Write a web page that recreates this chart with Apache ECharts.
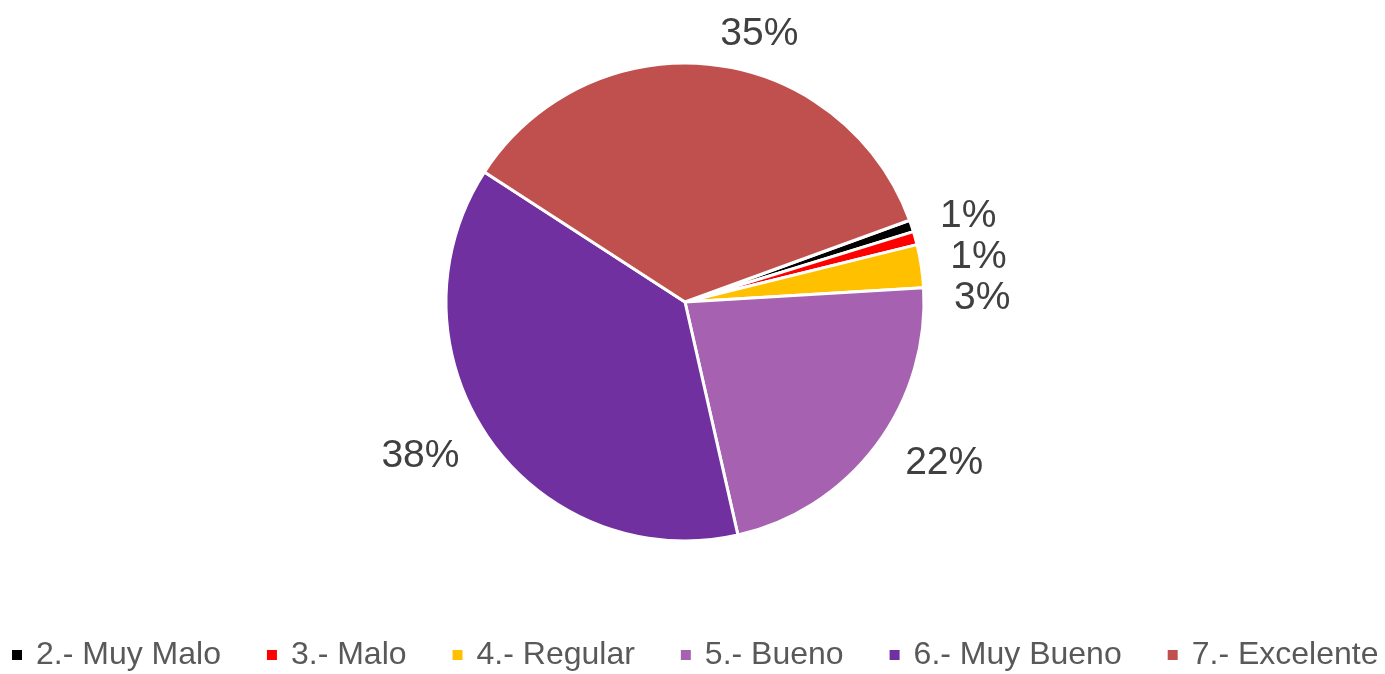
<!DOCTYPE html>
<html lang="es">
<head>
  <meta charset="UTF-8">
  <title>Pie</title>
  <script src="https://cdn.jsdelivr.net/npm/echarts@6/dist/echarts.min.js"></script>
  <style>
    html, body { margin: 0; padding: 0; background: #fff; }
  </style>
</head>
<body>
<div id="main" style="width: 1385px;height:674px;"></div>
<script type="text/javascript">

const categories = ['2.- Muy Malo', '3.- Malo', '4.- Regular', '5.- Bueno', '6.- Muy Bueno', '7.- Excelente'];
const values = [0.8, 0.9, 2.9, 22.4, 37.7, 35.3];
const colors = ['#000000', '#FF0000', '#FFC000', '#A662B0', '#7030A0', '#C0504D'];

const myChart = echarts.init(document.getElementById('main'));
const font = '"Liberation Sans Narrow", "Arial Narrow", "Liberation Sans", sans-serif';

const data = categories.map(function (name, i) {
  return {value: values[i], name: name, itemStyle: {color: colors[i]}};
});

const option = {
  color: colors,
  legend: {
    data: categories,
    top: 639,
    left: 10,
    width: 1375,
    padding: 0,
    icon: 'rect',
    itemWidth: 12,
    itemHeight: 12,
    itemGap: 44,
    formatter: function (name) {
      return '{a|' + name + '}';
    },
    textStyle: {
      fontFamily: font,
      fontSize: 32,
      color: '#595959',
      rich: {
        a: {fontFamily: font, fontSize: 32, color: '#595959', padding: [0, 0, 0, 8]}
      }
    }
  },
  series: [
    {
      type: 'pie',
      radius: 239,
      center: [685, 302],
      startAngle: 20,
      clockwise: true,
      avoidLabelOverlap: true,
      itemStyle: {borderColor: '#fff', borderWidth: 3},
      label: {
        show: true,
        position: 'outside',
        formatter: function (p) {
          return Math.round(p.percent) + '%';
        },
        fontFamily: font,
        fontSize: 39,
        color: '#404040'
      },
      labelLine: {show: false, length: 30, length2: 0},
      emphasis: {scale: false},
      data: data
    }
  ]
};
myChart.setOption(option);
</script>
</body>
</html>
